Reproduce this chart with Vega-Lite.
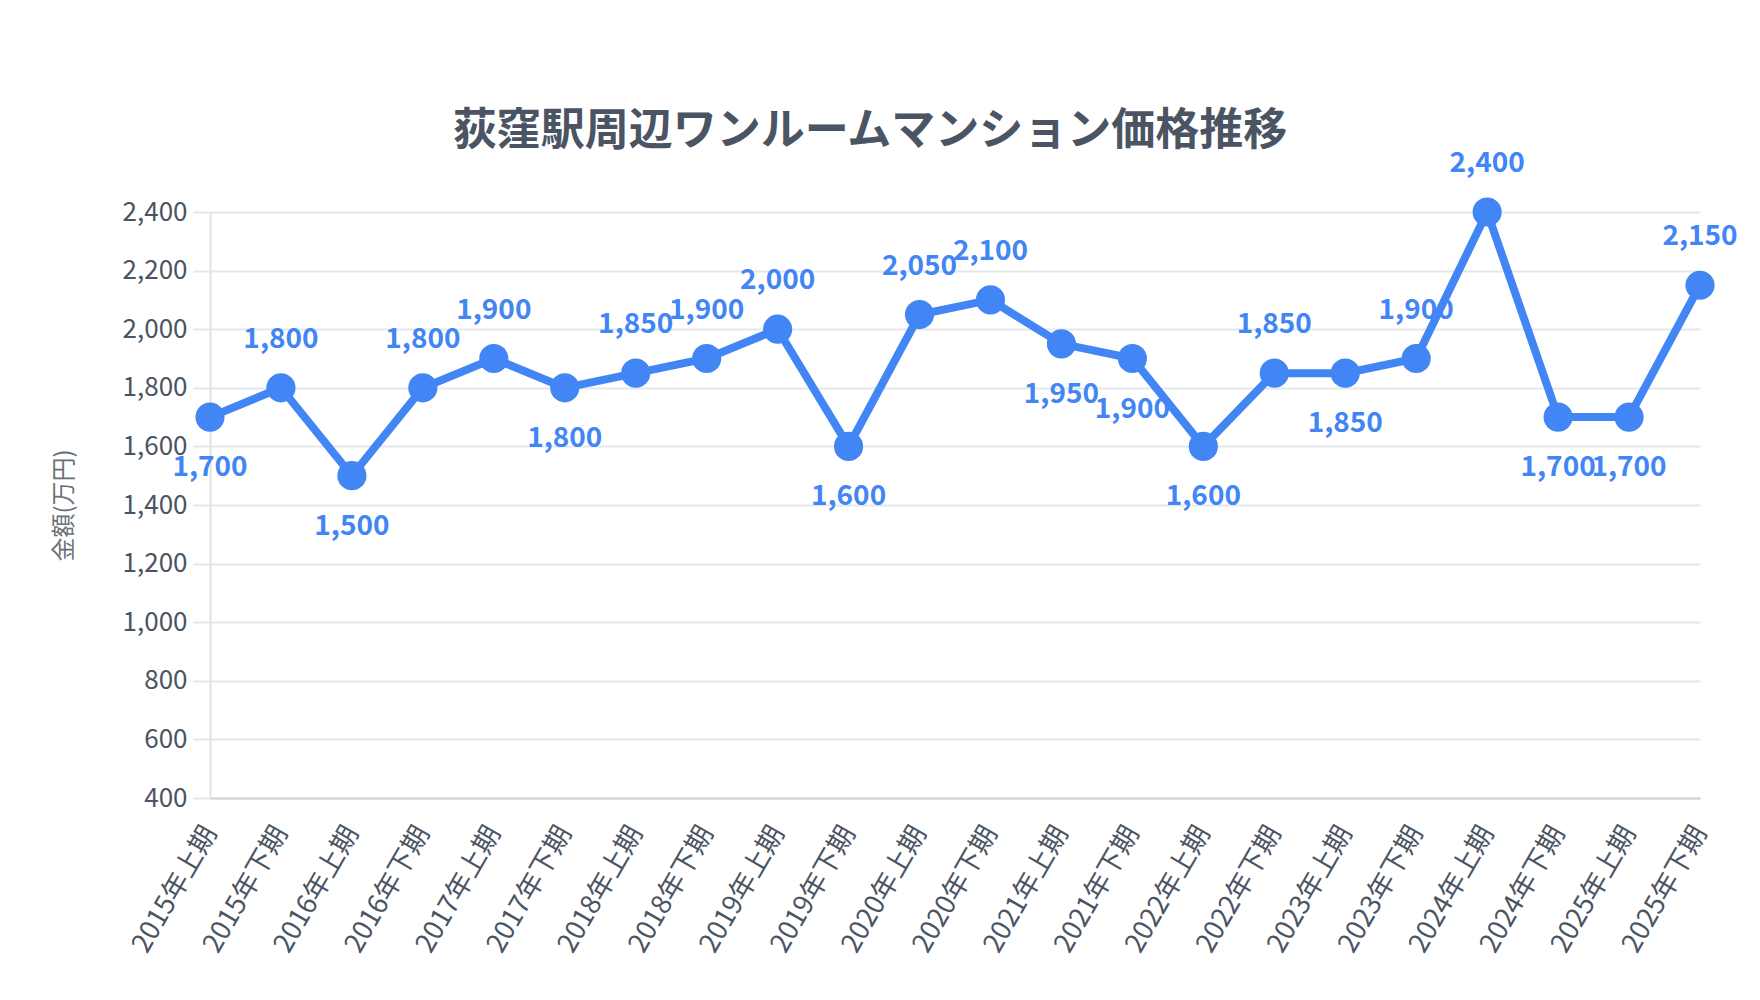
{
  "$schema": "https://vega.github.io/schema/vega-lite/v6.json",
  "autosize": {"type": "none"},
  "width": 1490,
  "height": 586,
  "padding": {"left": 210, "top": 212, "right": 60, "bottom": 202},
  "background": "white",
  "config": {
    "font": "Noto Sans CJK JP",
    "view": {"stroke": null}
  },
  "title": {
    "text": "荻窪駅周辺ワンルームマンション価格推移",
    "fontSize": 44,
    "fontWeight": "bold",
    "color": "#4a5462",
    "anchor": "middle",
    "dx": -85,
    "offset": -4
  },
  "data": {
    "values": [
      {"period": "2015年上期", "value": 1700},
      {"period": "2015年下期", "value": 1800},
      {"period": "2016年上期", "value": 1500},
      {"period": "2016年下期", "value": 1800},
      {"period": "2017年上期", "value": 1900},
      {"period": "2017年下期", "value": 1800},
      {"period": "2018年上期", "value": 1850},
      {"period": "2018年下期", "value": 1900},
      {"period": "2019年上期", "value": 2000},
      {"period": "2019年下期", "value": 1600},
      {"period": "2020年上期", "value": 2050},
      {"period": "2020年下期", "value": 2100},
      {"period": "2021年上期", "value": 1950},
      {"period": "2021年下期", "value": 1900},
      {"period": "2022年上期", "value": 1600},
      {"period": "2022年下期", "value": 1850},
      {"period": "2023年上期", "value": 1850},
      {"period": "2023年下期", "value": 1900},
      {"period": "2024年上期", "value": 2400},
      {"period": "2024年下期", "value": 1700},
      {"period": "2025年上期", "value": 1700},
      {"period": "2025年下期", "value": 2150}
    ]
  },
  "transform": [
    {"window": [{"op": "lag", "field": "value", "as": "prev"}]}
  ],
  "encoding": {
    "x": {
      "field": "period",
      "type": "ordinal",
      "sort": null,
      "scale": {"type": "point", "padding": 0},
      "axis": {
        "title": null,
        "labelAngle": -60,
        "labelAlign": "right",
        "labelBaseline": "middle",
        "labelFontSize": 27,
        "labelColor": "#4a5462",
        "labelPadding": 30,
        "ticks": false,
        "grid": false,
        "domainColor": "#cfd2d8",
        "domainWidth": 2
      }
    },
    "y": {
      "field": "value",
      "type": "quantitative",
      "scale": {"domain": [400, 2400], "nice": false, "zero": false},
      "axis": {
        "title": "金額(万円)",
        "titleFontSize": 24,
        "titleFontWeight": "normal",
        "titleColor": "#6b7078",
        "titlePadding": 46,
        "values": [400, 600, 800, 1000, 1200, 1400, 1600, 1800, 2000, 2200, 2400],
        "format": ",d",
        "labelFontSize": 26,
        "labelColor": "#4a5462",
        "labelPadding": 6,
        "tickSize": 17,
        "tickColor": "#e5e7eb",
        "tickWidth": 2,
        "gridColor": "#e5e7eb",
        "gridWidth": 2,
        "domainColor": "#e0e2e6",
        "domainWidth": 2
      }
    }
  },
  "layer": [
    {
      "mark": {"type": "line", "color": "#4285f4", "strokeWidth": 8}
    },
    {
      "mark": {"type": "point", "filled": true, "color": "#4285f4", "opacity": 1, "size": 850}
    },
    {
      "transform": [{"filter": "datum.prev != null && datum.value > datum.prev"}],
      "mark": {"type": "text", "color": "#4285f4", "fontSize": 28, "fontWeight": "bold", "baseline": "middle", "dy": -48},
      "encoding": {"text": {"field": "value", "type": "quantitative", "format": ",d"}}
    },
    {
      "transform": [{"filter": "datum.prev == null || datum.value <= datum.prev"}],
      "mark": {"type": "text", "color": "#4285f4", "fontSize": 28, "fontWeight": "bold", "baseline": "middle", "dy": 51},
      "encoding": {"text": {"field": "value", "type": "quantitative", "format": ",d"}}
    }
  ]
}
